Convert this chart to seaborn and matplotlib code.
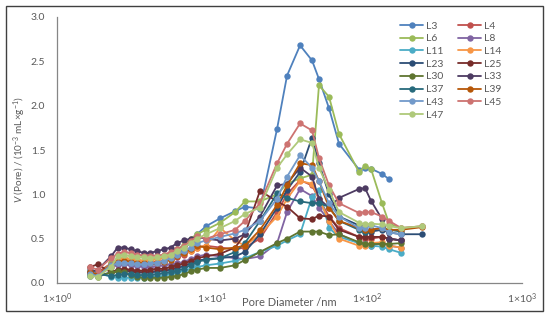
import matplotlib
matplotlib.use('Agg')
import matplotlib.pyplot as plt
from matplotlib.patches import Rectangle
import seaborn as sns
import pandas as pd

# pore diameters (nm) shared by all samples
diameter = [1.63, 1.83, 2.23, 2.46, 2.71, 2.98, 3.28, 3.64, 4.01, 4.42, 4.90, 5.40,
            5.95, 6.60, 7.27, 8.00, 9.15, 11.3, 14.1, 16.3, 20.4, 26.3, 30.5, 37.0,
            44.2, 49.0, 56.9, 66.0, 88.8, 97.1, 106.0, 125.0, 139.0, 166.0, 226.0]

# V(Pore) per sample, 10^-3 mL/g
L3 = [0.12, 0.10, 0.20, 0.22, 0.22, 0.21, 0.20, 0.20, 0.21, 0.22, 0.24, 0.28, 0.32, 0.38, 0.46, 0.55, 0.64,
      0.73, 0.81, 0.86, 0.84, 1.74, 2.34, 2.68, 2.51, 2.30, 1.97, 1.57, 1.28, 1.30, 1.29, 1.23, 1.17]
L4 = [0.15, 0.12, 0.22, 0.25, 0.26, 0.25, 0.24, 0.23, 0.23, 0.24, 0.25, 0.27, 0.29, 0.32, 0.36, 0.40, 0.42,
      0.40, 0.38, 0.40, 0.50, 0.80, 1.00, 1.16, 1.10, 0.95, 0.75, 0.62, 0.52, 0.50, 0.50, 0.52, 0.50, 0.48]
L6 = [0.10, 0.08, 0.22, 0.27, 0.28, 0.27, 0.26, 0.25, 0.26, 0.28, 0.30, 0.34, 0.38, 0.43, 0.50, 0.55, 0.60,
      0.68, 0.80, 0.92, 0.92, 1.00, 1.12, 1.18, 1.22, 2.23, 2.10, 1.68, 1.25, 1.32, 1.29, 0.90, 0.67, 0.62, 0.64]
L8 = [0.12, 0.10, 0.18, 0.20, 0.21, 0.20, 0.19, 0.18, 0.18, 0.19, 0.20, 0.21, 0.22, 0.24, 0.27, 0.30, 0.32,
      0.30, 0.28, 0.27, 0.30, 0.45, 0.80, 1.06, 0.98, 0.85, 0.70, 0.55, 0.45, 0.44, 0.42, 0.45, 0.42, 0.40]
L11 = [0.15, 0.12, 0.07, 0.06, 0.06, 0.06, 0.06, 0.06, 0.07, 0.07, 0.08, 0.10, 0.12, 0.14, 0.16, 0.18, 0.20,
       0.22, 0.25, 0.28, 0.35, 0.42, 0.48, 0.55, 0.97, 1.05, 0.62, 0.52, 0.45, 0.44, 0.42, 0.41, 0.38, 0.34]
L14 = [0.10, 0.09, 0.20, 0.26, 0.28, 0.27, 0.26, 0.25, 0.26, 0.27, 0.28, 0.30, 0.32, 0.34, 0.36, 0.40, 0.42,
       0.62, 0.48, 0.42, 0.55, 0.75, 0.95, 1.15, 1.12, 0.95, 0.70, 0.50, 0.42, 0.42, 0.45, 0.46, 0.42, 0.40]
L23 = [0.10, 0.08, 0.12, 0.13, 0.14, 0.13, 0.12, 0.12, 0.12, 0.13, 0.14, 0.15, 0.17, 0.19, 0.22, 0.25, 0.27,
       0.28, 0.30, 0.35, 0.55, 0.85, 1.05, 1.25, 1.64, 1.35, 1.00, 0.75, 0.65, 0.58, 0.58, 0.60, 0.57, 0.55, 0.55]
L25 = [0.18, 0.21, 0.12, 0.15, 0.16, 0.15, 0.14, 0.14, 0.15, 0.16, 0.16, 0.18, 0.20, 0.22, 0.25, 0.28, 0.30,
       0.33, 0.40, 0.55, 1.04, 0.92, 0.86, 0.73, 0.72, 0.76, 0.75, 0.60, 0.52, 0.52, 0.52, 0.52, 0.50, 0.48]
L30 = [0.10, 0.07, 0.12, 0.13, 0.12, 0.09, 0.07, 0.06, 0.06, 0.06, 0.06, 0.07, 0.08, 0.10, 0.13, 0.15, 0.17,
       0.17, 0.20, 0.26, 0.35, 0.45, 0.50, 0.58, 0.58, 0.58, 0.54, 0.55, 0.46, 0.44, 0.44, 0.44, 0.44, 0.45]
L33 = [0.12, 0.15, 0.30, 0.40, 0.40, 0.38, 0.36, 0.34, 0.34, 0.36, 0.38, 0.40, 0.45, 0.48, 0.50, 0.52, 0.50,
       0.48, 0.50, 0.55, 0.75, 1.10, 1.12, 1.30, 1.20, 0.95, 0.85, 0.96, 1.06, 1.07, 0.93, 0.72, 0.50, 0.48]
L37 = [0.08, 0.10, 0.08, 0.09, 0.10, 0.10, 0.09, 0.09, 0.09, 0.10, 0.11, 0.12, 0.14, 0.16, 0.20, 0.24, 0.26,
       0.28, 0.35, 0.45, 0.70, 1.01, 0.96, 0.92, 0.90, 0.90, 0.86, 0.70, 0.60, 0.58, 0.60, 0.62, 0.60, 0.58]
L39 = [0.12, 0.10, 0.20, 0.24, 0.25, 0.24, 0.23, 0.22, 0.22, 0.23, 0.24, 0.26, 0.30, 0.34, 0.38, 0.42, 0.40,
       0.38, 0.40, 0.42, 0.60, 0.88, 1.10, 1.35, 1.33, 1.15, 0.85, 0.70, 0.62, 0.60, 0.60, 0.62, 0.60, 0.60, 0.63]
L43 = [0.10, 0.08, 0.20, 0.22, 0.23, 0.22, 0.21, 0.21, 0.22, 0.23, 0.25, 0.28, 0.32, 0.36, 0.40, 0.45, 0.48,
       0.52, 0.56, 0.60, 0.70, 0.95, 1.20, 1.44, 1.30, 1.15, 0.90, 0.75, 0.62, 0.62, 0.65, 0.62, 0.57, 0.55]
L45 = [0.18, 0.15, 0.28, 0.33, 0.35, 0.34, 0.32, 0.31, 0.31, 0.31, 0.32, 0.35, 0.38, 0.42, 0.47, 0.53, 0.50,
       0.55, 0.60, 0.70, 0.90, 1.35, 1.57, 1.80, 1.72, 1.41, 1.10, 0.90, 0.79, 0.80, 0.80, 0.75, 0.70, 0.62, 0.64]
L47 = [0.08, 0.07, 0.18, 0.30, 0.32, 0.30, 0.29, 0.29, 0.28, 0.29, 0.30, 0.32, 0.36, 0.40, 0.45, 0.50, 0.55,
       0.62, 0.70, 0.78, 0.85, 1.30, 1.45, 1.62, 1.58, 1.30, 1.05, 0.80, 0.68, 0.66, 0.67, 0.66, 0.64, 0.62, 0.64]

samples = ['L3', 'L4', 'L6', 'L8', 'L11', 'L14', 'L23', 'L25', 'L30', 'L33', 'L37', 'L39', 'L43', 'L45', 'L47']
series = [L3, L4, L6, L8, L11, L14, L23, L25, L30, L33, L37, L39, L43, L45, L47]
colors = ['#4F81BD', '#C0504D', '#9BBB59', '#8064A2', '#4BACC6', '#F79646', '#2C4D75', '#772C2A',
          '#5F7530', '#4D3B62', '#276A7C', '#B65708', '#729ACA', '#CD7371', '#AFC97A']

rows = []
for name, vals in zip(samples, series):
    for d, v in zip(diameter, vals):
        rows.append({'diameter': d, 'volume': v, 'sample': name})
df = pd.DataFrame(rows)

sns.set_style('white')
plt.rcParams['font.family'] = ['Lato', 'DejaVu Sans']
plt.rcParams['mathtext.fontset'] = 'custom'
plt.rcParams['mathtext.rm'] = 'Lato'
plt.rcParams['mathtext.it'] = 'Lato:italic'

fig = plt.figure(figsize=(5.5, 3.17), dpi=100)
ax = fig.add_axes([57 / 550, 1 - 283 / 317, (522 - 57) / 550, (283 - 17) / 317])

sns.lineplot(data=df, x='diameter', y='volume', hue='sample', hue_order=samples,
             palette=dict(zip(samples, colors)), estimator=None, marker='o',
             markersize=4.6, markeredgewidth=0, linewidth=1.3, ax=ax, legend=False)

ax.set_xscale('log')
ax.set_xlim(1, 1000)
ax.set_ylim(0, 3.0)
ax.set_xticks([1, 10, 100, 1000])
ax.set_xticklabels([r'$1{\times}10^{0}$', r'$1{\times}10^{1}$', r'$1{\times}10^{2}$', r'$1{\times}10^{3}$'])
ax.minorticks_off()
ax.set_yticks([0, 0.5, 1.0, 1.5, 2.0, 2.5, 3.0])
ax.set_yticklabels(['0.0', '0.5', '1.0', '1.5', '2.0', '2.5', '3.0'])

grey = '#595959'
for side in ['top', 'right']:
    ax.spines[side].set_visible(False)
for side in ['left', 'bottom']:
    ax.spines[side].set_color('#868686')
    ax.spines[side].set_linewidth(0.9)
ax.tick_params(axis='y', direction='out', length=3.5, width=0.8,
               color='#868686', labelsize=7.5, labelcolor=grey, pad=5)
ax.tick_params(axis='x', direction='in', length=2.5, width=0.8,
               color='#868686', labelsize=7.5, labelcolor=grey, pad=6)

ax.set_xlabel('Pore Diameter /nm', fontsize=8, color=grey)
ax.xaxis.set_label_coords(0.5, -0.075)
ax.xaxis.label.set_verticalalignment('center')
ax.set_ylabel(r'$\mathit{V}$ (Pore) / (10$^{-3}$ mL×g$^{-1}$)', fontsize=7.2, color=grey)
ax.yaxis.set_label_coords(-0.08, 0.5)
ax.yaxis.label.set_verticalalignment('center')

# legend filled row by row, like the original
lines = ax.get_lines()
order = [0, 2, 4, 6, 8, 10, 12, 14, 1, 3, 5, 7, 9, 11, 13]
ax.legend([lines[i] for i in order], [samples[i] for i in order], ncol=2, frameon=False,
          loc='upper left', bbox_to_anchor=(393 / 550, 1 - 14 / 317), bbox_transform=fig.transFigure,
          fontsize=7.5, labelcolor=grey, handlelength=2.2, handletextpad=0.3,
          columnspacing=1.4, labelspacing=0.33, borderpad=0.2)

fig.patches.append(Rectangle((6 / 550, 6 / 317), 537 / 550, 305 / 317, transform=fig.transFigure,
                             fill=False, edgecolor='#404040', linewidth=1.0))

fig.savefig('out.png', dpi=100)
